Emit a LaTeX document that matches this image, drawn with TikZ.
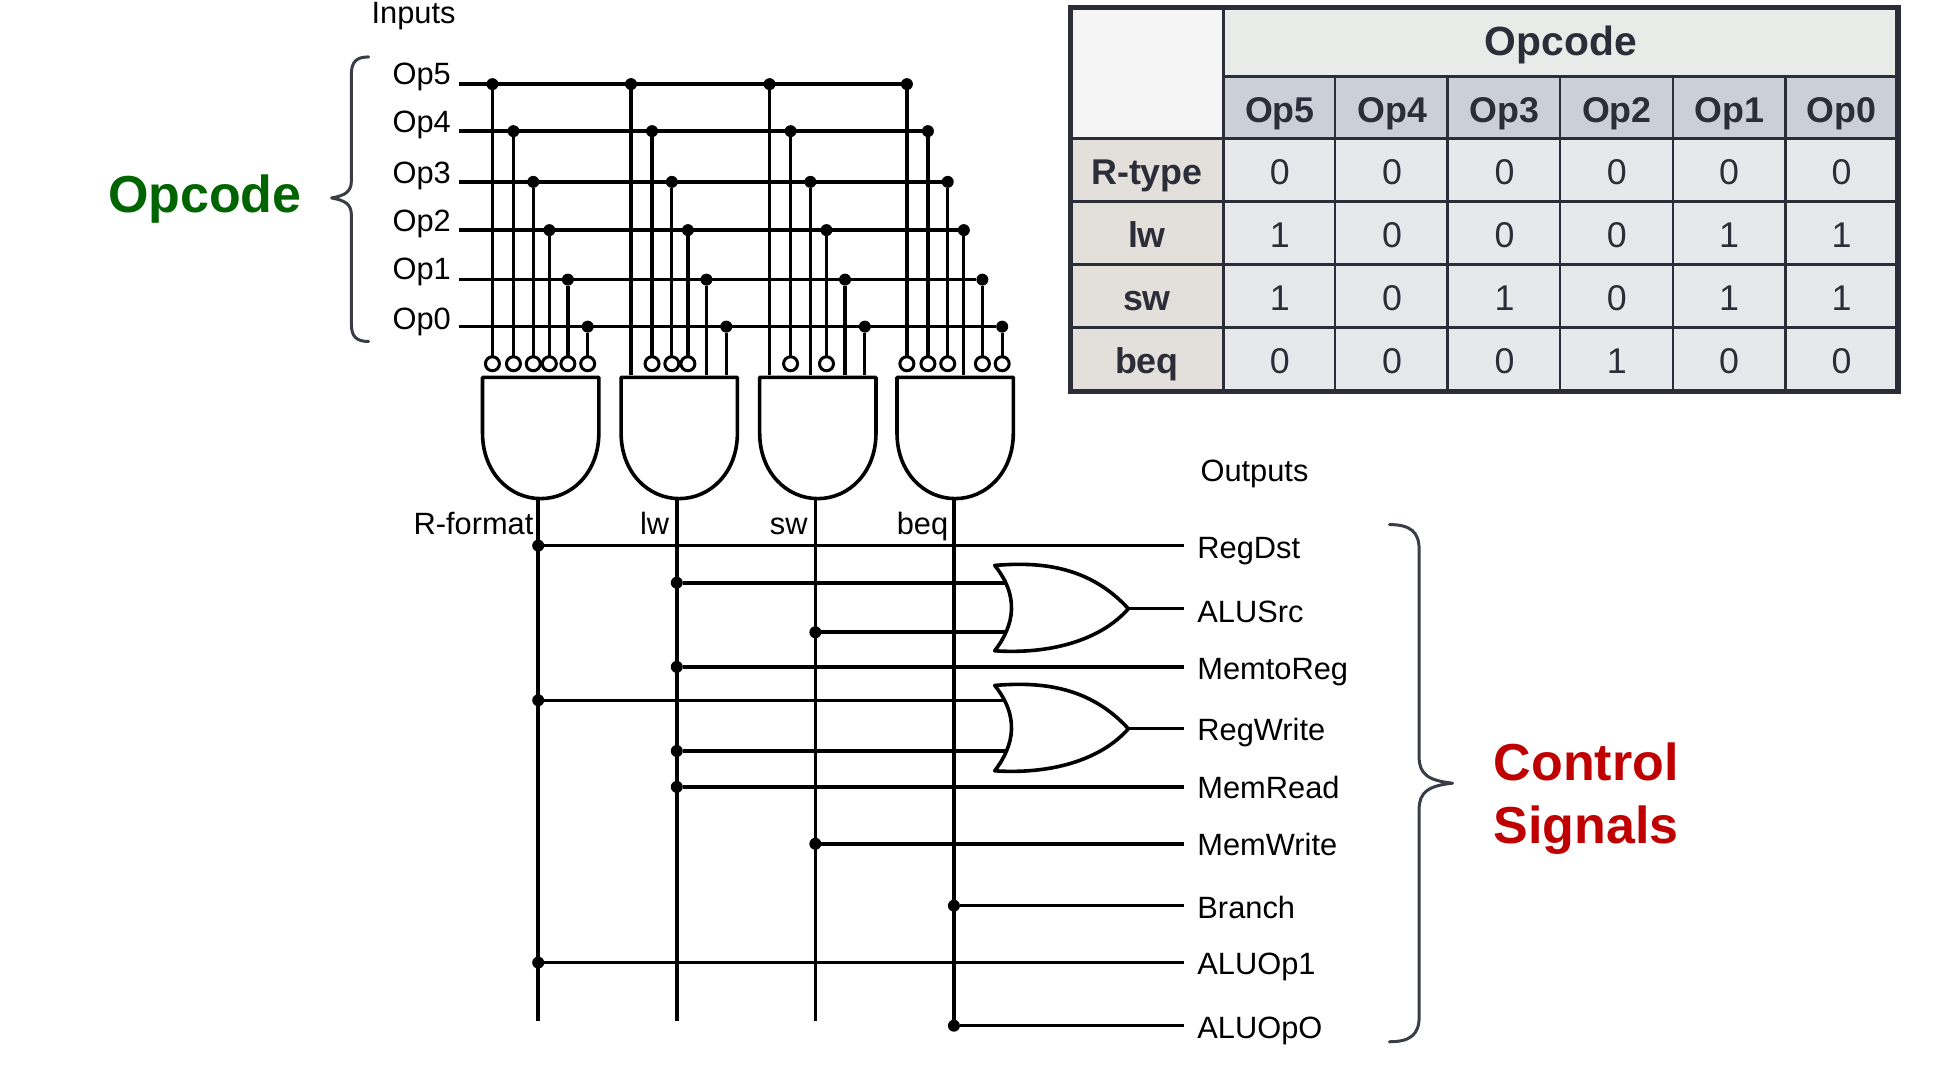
\documentclass[tikz,border=0pt]{standalone}
\usepackage{fontspec}
\setmainfont{Liberation Sans}
\definecolor{tline}{HTML}{2B2E38}
\definecolor{thead}{HTML}{E9EBE9}
\definecolor{tcorner}{HTML}{F5F5F5}
\definecolor{tsub}{HTML}{CBCFD8}
\definecolor{trow}{HTML}{E3DFDB}
\definecolor{tcell}{HTML}{E7E8EC}
\definecolor{bracec}{HTML}{3A3D45}
\definecolor{opgreen}{HTML}{006400}
\definecolor{sigred}{HTML}{C00000}
\tikzset{
  wire/.style={line width=1.75pt,black},
  gate/.style={line width=1.8pt,black,fill=white,line join=round},
  lab/.style={font=\fontsize{15.4}{18}\selectfont,inner sep=0pt,anchor=base west},
  dotn/.style={circle,fill=black,inner sep=0pt,minimum size=6pt,outer sep=0pt},
  bubble/.style={circle,draw=black,line width=1.5pt,fill=white,inner sep=0pt,minimum size=7pt,outer sep=0pt},
  bigt/.style={font=\fontsize{26}{30}\selectfont\bfseries,inner sep=0pt,anchor=base west},
  thd/.style={font=\fontsize{17.9}{20}\selectfont,text=tline,inner sep=0pt,anchor=base},
  tbold/.style={font=\fontsize{20.4}{22}\selectfont\bfseries,text=tline,inner sep=0pt,anchor=base},
  thb/.style={font=\fontsize{17.9}{20}\selectfont\bfseries,text=tline,inner sep=0pt,anchor=base},
  brc/.style={line width=1.5pt,bracec,line cap=round,line join=round},
}
\newcommand{\colpos}[2]{%
  \pgfmathsetmacro{\wx}{{398,510,622,733}[#1-1]+{0,17,33,46,61,77}[#2-1]}%
  \pgfmathsetmacro{\wy}{{68,106,147,186,226,264}[#2-1]}%
}
\begin{document}
\begin{tikzpicture}[x=0.6186pt,y=0.6186pt]
\useasboundingbox (0,0) rectangle (1568,-861.6);

% ---------- table
\fill[tcorner] (865,-6) rectangle (989,-112);
\fill[thead] (989,-6) rectangle (1534,-62);
\fill[tsub] (989,-62) rectangle (1534,-112);
\fill[trow] (865,-112) rectangle (989,-316);
\fill[tcell] (989,-112) rectangle (1534,-316);
\foreach \y in {163,214,265}
  \draw[tline,line width=1.4pt] (865,-\y) -- (1534,-\y);
\draw[tline,line width=1.4pt] (989,-62) -- (1534,-62);
\draw[tline,line width=1.4pt] (865,-112) -- (1534,-112);
\draw[tline,line width=1.2pt] (989,-6) -- (989,-316);
\foreach \x in {1079,1170,1261,1352,1443}
  \draw[tline,line width=1.2pt] (\x,-62) -- (\x,-316);
\draw[tline,line width=2.6pt] (865,-6) rectangle (1534,-316.5);
\node[tbold] (tOpcode) at (1261.5,-45) {Opcode};
\foreach \h [count=\k] in {Op5,Op4,Op3,Op2,Op1,Op0}{
  \pgfmathsetmacro{\cx}{989+(\k-0.5)*90.8}
  \node[thb] (th\k) at (\cx,-99) {\h};
}
\foreach \r/\lab/\base/\vals in {1/R-type/149/{0,0,0,0,0,0},2/lw/200/{1,0,0,0,1,1},3/sw/251/{1,0,1,0,1,1},4/beq/302/{0,0,0,1,0,0}}{
  \node[thb] (trow\r) at (927,-\base) {\lab};
  \foreach \v [count=\k] in \vals {
    \pgfmathsetmacro{\cx}{989+(\k-0.5)*90.8}
    \node[thd] (tc\r\k) at (\cx,-\base) {\v};
  }
}

% ---------- titles and braces
\node[bigt,text=opgreen] (tOp) at (87,-172) {Opcode};
\node[bigt,text=sigred] (tCtl) at (1207,-631) {Control};
\node[bigt,text=sigred] (tSig) at (1207,-682) {Signals};
\draw[brc] (298,-46) .. controls (288,-46) and (284,-50) .. (284,-60) -- (284,-146)
  .. controls (284,-155) and (279,-158) .. (268,-160)
  .. controls (279,-162) and (284,-165) .. (284,-174) -- (284,-262)
  .. controls (284,-272) and (288,-276) .. (298,-276);
\draw[brc] (1123,-424) .. controls (1140,-424) and (1147,-430) .. (1147,-444) -- (1147,-612)
  .. controls (1147,-626) and (1155,-631) .. (1174,-633)
  .. controls (1155,-635) and (1147,-640) .. (1147,-654) -- (1147,-822)
  .. controls (1147,-836) and (1140,-842) .. (1123,-842);

% ---------- input labels
\node[lab] (inputs) at (300,-19) {Inputs};
\node[lab] (outputs) at (970,-389.5) {Outputs};
\foreach \t/\y [count=\c] in {Op5/68,Op4/107,Op3/148,Op2/187,Op1/226,Op0/266}{
  \node[lab] (oplab\c) at (317,-\y) {\t};
}

% ---------- AND gates
\foreach \g/\X/\O in {1/390/435,2/502/547,3/614/659,4/725/771}{
  \coordinate (gTop\g) at (\X,-305);
  \coordinate (gOut\g) at (\O,-403);
  \coordinate (gEnd\g) at (\O,-825);
  \draw[gate] (\X,-305) -- ({\X+94},-305) -- ({\X+94},-350)
    .. controls ({\X+94},-382) and ({\X+72},-403) .. ({\X+47},-403)
    .. controls ({\X+22},-403) and (\X,-382) .. (\X,-350) -- cycle;
  \draw[wire] (gOut\g) -- (gEnd\g);
}

% ---------- opcode rails and gate inputs
\foreach \g/\c in {1/1,1/2,1/3,1/4,1/5,1/6,2/2,2/3,2/4,3/2,3/4,4/1,4/2,4/3,4/5,4/6}{
  \colpos{\g}{\c}
  \node[dotn] (d\g\c) at (\wx,-\wy) {};
  \node[bubble] (e\g\c) at (\wx,-294) {};
}
\foreach \g/\c in {2/1,2/5,2/6,3/1,3/3,3/5,3/6,4/4}{
  \colpos{\g}{\c}
  \node[dotn] (d\g\c) at (\wx,-\wy) {};
  \coordinate (e\g\c) at (\wx,-303);
}
\foreach \c/\y in {1/68,2/106,3/147,4/186,5/226,6/264}{
  \coordinate (rail\c) at (371,-\y);
  \draw[wire] (rail\c) -- (d4\c);
}
\foreach \g in {1,2,3,4}
  \foreach \c in {1,2,3,4,5,6}
    \draw[wire,line width=1.6pt] (d\g\c) -- (e\g\c);

% ---------- gate names
\node[lab] (nR) at (334,-432) {R-format};
\node[lab] (nL) at (517,-432) {lw};
\node[lab] (nS) at (622,-432) {sw};
\node[lab] (nB) at (724.5,-432) {beq};

% ---------- outputs
\foreach \n/\x/\y/\t/\b in {
  a/435/441/RegDst/451,
  c/547/539/MemtoReg/549.5,
  e/547/636/MemRead/645.5,
  f/659/682/MemWrite/691.5,
  g/771/732/Branch/742,
  h/435/778/ALUOp1/787.5,
  i/771/829/ALUOpO/839}{
  \node[dotn] (s\n) at (\x,-\y) {};
  \coordinate (o\n) at (957,-\y);
  \node[lab] (t\n) at (967.5,-\b) {\t};
  \draw[wire] (s\n) -- (o\n);
}

% ---------- OR gates
\foreach \n/\Y/\ya/\xa/\yb/\xb/\t/\b in {
  p/457/471/547/511/659/ALUSrc/503,
  q/554/566/435/607/547/RegWrite/598.5}{
  \node[dotn] (pa\n) at (\xa,-\ya) {};
  \node[dotn] (pb\n) at (\xb,-\yb) {};
  \coordinate (ia\n) at (815,-\ya);
  \coordinate (ib\n) at (815,-\yb);
  \draw[wire] (pa\n) -- (ia\n);
  \draw[wire] (pb\n) -- (ib\n);
  \draw[gate] (804,-\Y) .. controls (840,{-\Y+3}) and (880,{-\Y+0}) .. (912,{-\Y-35})
    .. controls (890,{-\Y-60}) and (850,{-\Y-72}) .. (804,{-\Y-69})
    .. controls (820,{-\Y-48}) and (824,{-\Y-25}) .. (804,-\Y) -- cycle;
  \coordinate (orO\n) at (912,{-\Y-35});
  \coordinate (orE\n) at (957,{-\Y-35});
  \draw[wire] (orO\n) -- (orE\n);
  \node[lab] (tor\n) at (967.5,-\b) {\t};
}
\end{tikzpicture}
\end{document}
